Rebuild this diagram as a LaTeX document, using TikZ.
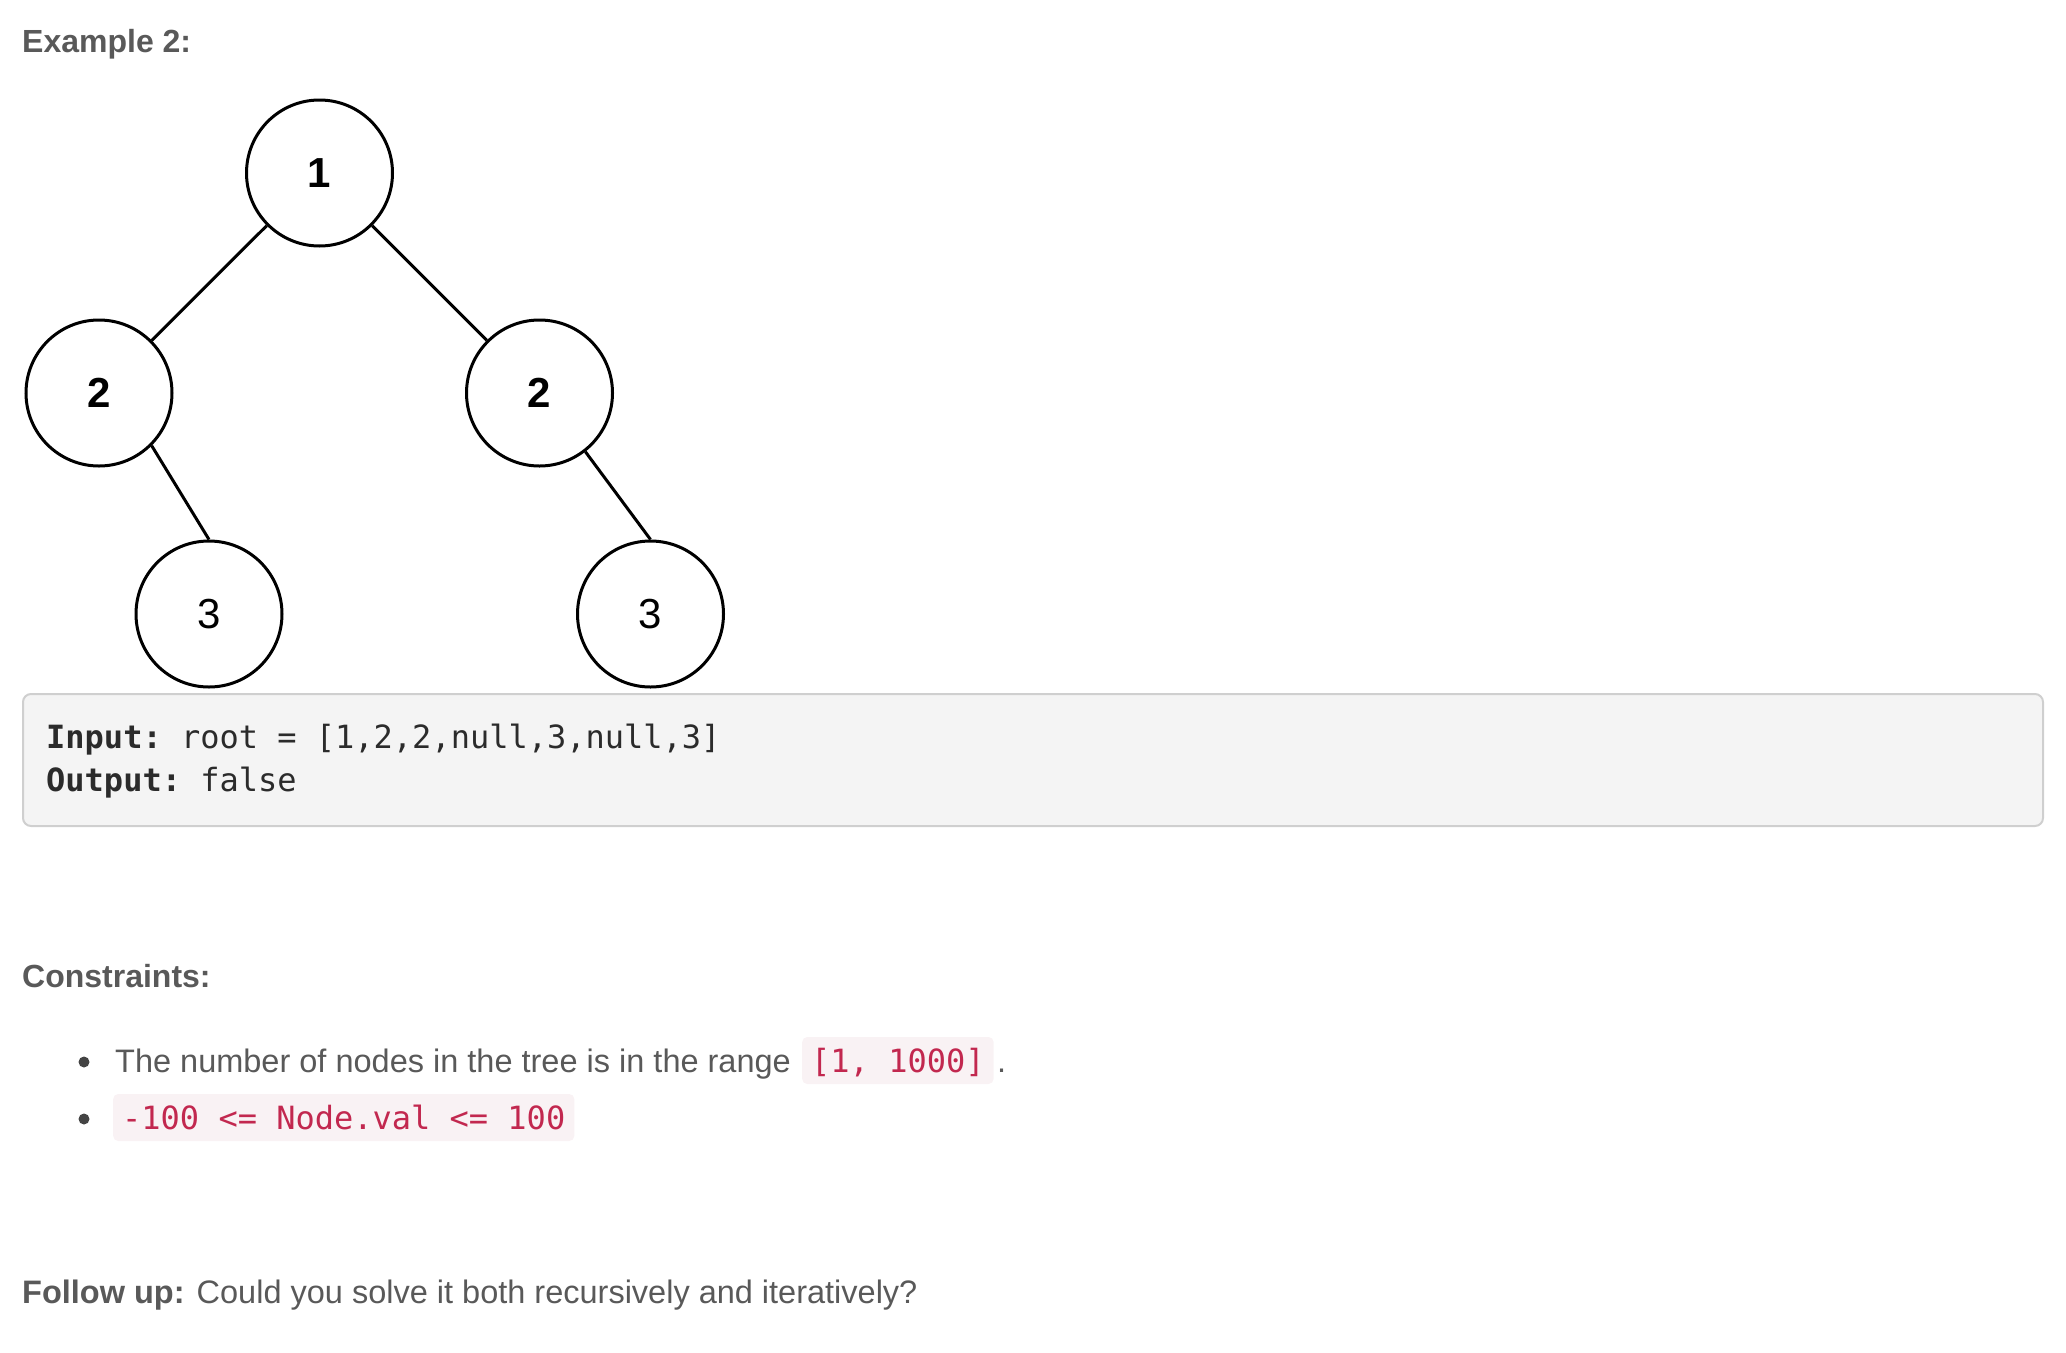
\documentclass[tikz,border=0pt]{standalone}
\usepackage{fontspec}
\setmainfont{Liberation Sans}
\setmonofont{DejaVu Sans Mono}
\usetikzlibrary{positioning}
\definecolor{txtgray}{HTML}{595959}
\definecolor{dotgray}{HTML}{444444}
\definecolor{codered}{HTML}{C2284F}
\definecolor{codebg}{HTML}{F9F2F4}
\definecolor{boxbg}{HTML}{F4F4F4}
\definecolor{boxline}{HTML}{CFCFCF}
\definecolor{pretext}{HTML}{2B2B2B}

\begin{document}
\begin{tikzpicture}[x=1pt,y=-1pt,
		treevertex/.style={circle,draw,line width=3pt,minimum size=146pt,inner sep=0pt,
			font=\fontsize{42}{42}\selectfont},
		bodytext/.style={anchor=base west,inner sep=0pt,text=txtgray,font=\fontsize{32.5}{38}\selectfont},
		headtext/.style={bodytext,font=\fontsize{32}{38}\selectfont\bfseries},
		pretxt/.style={anchor=base west,inner sep=0pt,text=pretext,font=\fontsize{32}{38}\selectfont\ttfamily},
		codebox/.style={draw=boxline,fill=boxbg,line width=2pt,rounded corners=8pt,
			minimum width=2020pt,minimum height=132pt,inner sep=0pt},
		inlinecode/.style={anchor=base west,fill=codebg,rounded corners=5pt,inner xsep=9pt,inner ysep=0pt,
			text height=35pt,text depth=12pt,text=codered,font=\fontsize{32}{38}\selectfont\ttfamily},
		bulletdot/.style={circle,fill=dotgray,inner sep=0pt,minimum size=11pt},
		node distance=220pt
		]
		\useasboundingbox (0,0) rectangle (2066,1352);
		
		\node[headtext](title) at (22,52){Example 2:};
		
		% the tree
		\node[treevertex](T0) at (319.5,173){\bfseries 1};
		\node[treevertex, below of = T0, xshift = -220.5pt](T1){\bfseries 2};
		\node[treevertex, below of = T0, xshift = 220pt](T2){\bfseries 2};
		\node[treevertex, below of = T1, xshift = 110pt, yshift = -1pt](T3){3};
		\node[treevertex, below of = T2, xshift = 111pt, yshift = -1pt](T4){3};
		\draw[line width=3pt] (T0) -- (T1);
		\draw[line width=3pt] (T0) -- (T2);
		\draw[line width=3pt] (T1.-45) -- (T3.north);
		\draw[line width=3pt] (T2.-52) -- (T4.north);
		
		% input / output
		\node[codebox](box) at (1033,760){};
		\node[pretxt](input) at (46,748){\textbf{Input:} root = [1,2,2,null,3,null,3]};
		\node[pretxt](output) at (46,791){\textbf{Output:} false};
		
		% constraints
		\node[headtext](constr) at (22,987){Constraints:};
		\node[bulletdot](dot1) at (84,1062){};
		\node[bodytext](item1) at (115,1072){The number of nodes in the tree is in the range};
		\node[inlinecode](code1) at (802,1072){[1, 1000]};
		\node[bodytext, xshift=3pt](stop1) at (code1.base east){.};
		\node[bulletdot](dot2) at (84,1119){};
		\node[inlinecode](code2) at (113,1129){-100 <= Node.val <= 100};
		
		\node[bodytext](follow) at (22,1303){\textbf{Follow up:} Could you solve it both recursively and iteratively?};
	\end{tikzpicture}
\end{document}
